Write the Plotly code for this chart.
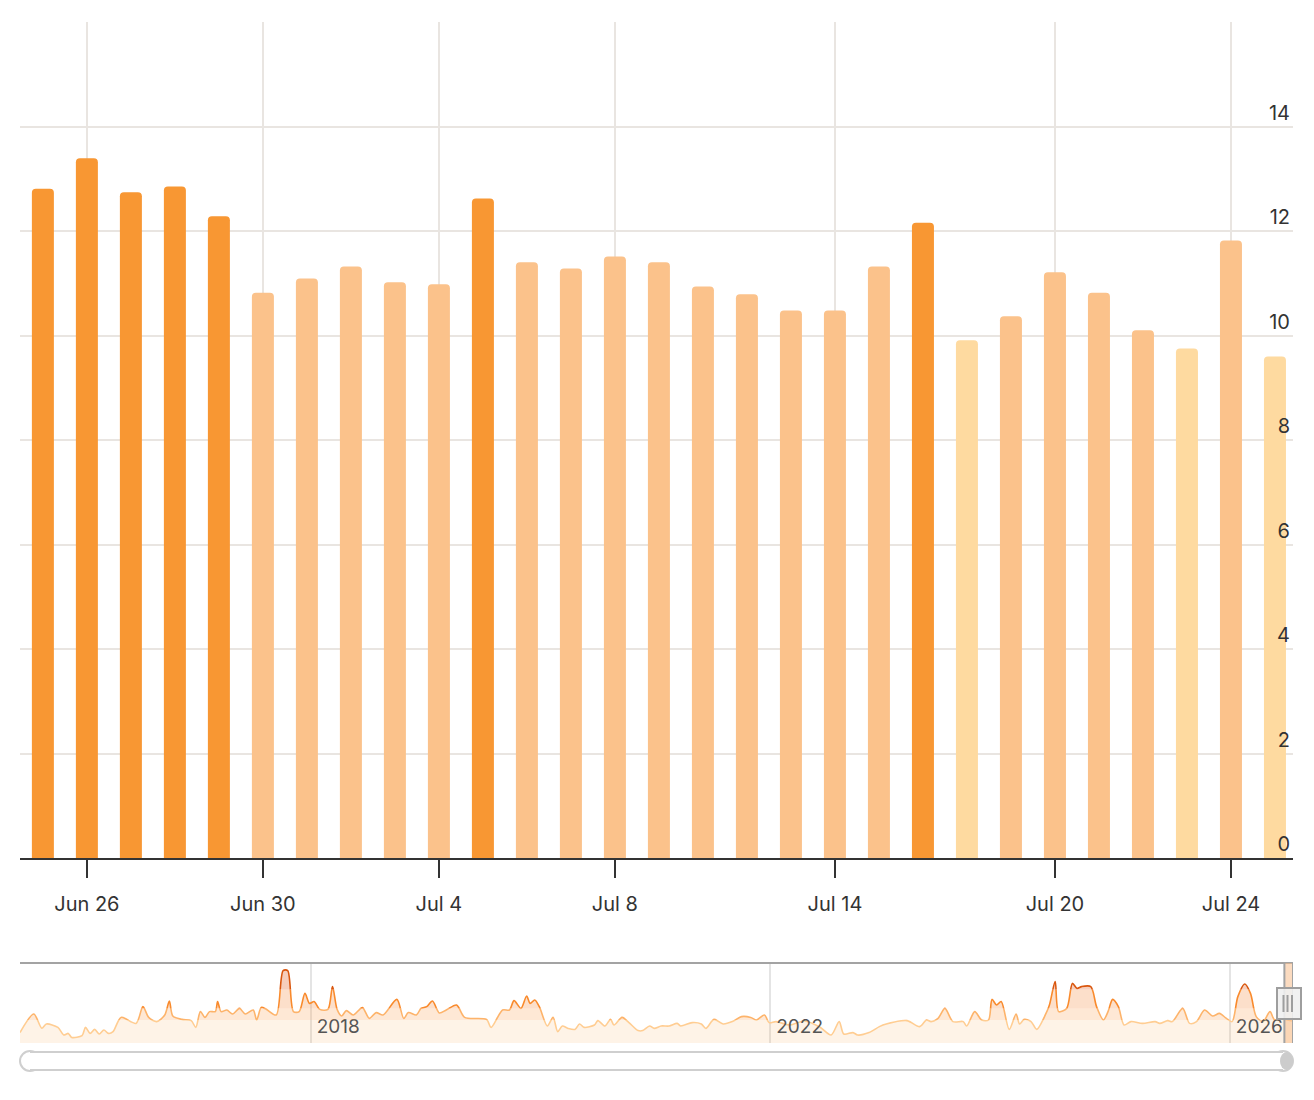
import plotly.graph_objects as go

# ---------------- main chart data ----------------
dates = ["Jun 25", "Jun 26", "Jun 27", "Jun 28", "Jun 29", "Jun 30", "Jul 1", "Jul 2",
         "Jul 3", "Jul 4", "Jul 5", "Jul 6", "Jul 7", "Jul 8", "Jul 9", "Jul 10",
         "Jul 11", "Jul 12", "Jul 14", "Jul 15", "Jul 16", "Jul 18", "Jul 19", "Jul 20",
         "Jul 21", "Jul 22", "Jul 23", "Jul 24", "Jul 25"]
values = [12.81, 13.39, 12.74, 12.85, 12.28, 10.82, 11.09, 11.32, 11.02, 10.98,
          12.62, 11.40, 11.28, 11.51, 11.40, 10.94, 10.79, 10.48, 10.48, 11.32,
          12.16, 9.91, 10.37, 11.21, 10.82, 10.10, 9.75, 11.82, 9.60]
levels = ["high", "high", "high", "high", "high", "mid", "mid", "mid", "mid", "mid",
          "high", "mid", "mid", "mid", "mid", "mid", "mid", "mid", "mid", "mid",
          "high", "low", "mid", "mid", "mid", "mid", "low", "mid", "low"]
x_ticks = ["Jun 26", "Jun 30", "Jul 4", "Jul 8", "Jul 14", "Jul 20", "Jul 24"]
y_ticks = [0, 2, 4, 6, 8, 10, 12, 14, 16]
y_ticktext = ["0", "2", "4", "6", "8", "10", "12", "14", ""]

# ---------------- overview (slider) data ----------------
ov_years = [2015.47, 2015.59, 2015.66, 2015.70, 2015.80, 2015.85, 2015.89, 2015.92, 2016.01,
            2016.04, 2016.08, 2016.12, 2016.16, 2016.20, 2016.24, 2016.28, 2016.35, 2016.48,
            2016.54, 2016.59, 2016.66, 2016.73, 2016.77, 2016.80, 2016.88, 2016.96, 2017.00,
            2017.04, 2017.08, 2017.12, 2017.17, 2017.19, 2017.22, 2017.27, 2017.32, 2017.38,
            2017.43, 2017.50, 2017.53, 2017.57, 2017.61, 2017.70, 2017.76, 2017.80, 2017.85,
            2017.90, 2017.95, 2017.99, 2018.03, 2018.08, 2018.15, 2018.19, 2018.23, 2018.27,
            2018.31, 2018.37, 2018.45, 2018.51, 2018.57, 2018.63, 2018.75, 2018.81, 2018.85,
            2018.92, 2018.96, 2019.01, 2019.06, 2019.12, 2019.18, 2019.27, 2019.34, 2019.53,
            2019.57, 2019.67, 2019.73, 2019.77, 2019.83, 2019.88, 2019.91, 2019.95, 2019.99,
            2020.06, 2020.11, 2020.15, 2020.19, 2020.24, 2020.30, 2020.34, 2020.38, 2020.47,
            2020.50, 2020.56, 2020.61, 2020.64, 2020.71, 2020.77, 2020.85, 2020.89, 2020.95,
            2020.99, 2021.05, 2021.12, 2021.19, 2021.22, 2021.32, 2021.40, 2021.44, 2021.51,
            2021.59, 2021.67, 2021.75, 2021.83, 2021.88, 2021.95, 2021.99, 2022.05, 2022.17,
            2022.30, 2022.43, 2022.53, 2022.60, 2022.64, 2022.72, 2022.76, 2022.86, 2022.95,
            2023.01, 2023.19, 2023.30, 2023.36, 2023.40, 2023.46, 2023.52, 2023.59, 2023.68,
            2023.71, 2023.78, 2023.84, 2023.90, 2023.93, 2023.97, 2024.01, 2024.08, 2024.14,
            2024.17, 2024.21, 2024.27, 2024.32, 2024.40, 2024.43, 2024.48, 2024.51, 2024.58,
            2024.63, 2024.67, 2024.71, 2024.79, 2024.84, 2024.90, 2024.94, 2024.98, 2025.03,
            2025.08, 2025.14, 2025.24, 2025.35, 2025.39, 2025.46, 2025.50, 2025.59, 2025.65,
            2025.71, 2025.78, 2025.85, 2025.91, 2025.97, 2026.02, 2026.07, 2026.13, 2026.18,
            2026.23, 2026.29, 2026.35, 2026.39, 2026.46, 2026.54]
ov_values = [5.2, 14.5, 7.4, 9.5, 7.8, 4.0, 4.8, 2.8, 3.7,
             7.8, 4.8, 6.8, 4.5, 6.5, 4.8, 5.7, 12.8, 9.8,
             18.2, 12.8, 10.7, 14.0, 21.0, 13.5, 11.8, 11.2, 7.8,
             15.7, 12.8, 15.7, 15.7, 20.7, 15.7, 16.5, 14.5, 17.3,
             14.5, 16.5, 11.5, 17.8, 17.0, 14.0, 36.2, 36.2, 15.7,
             15.7, 24.8, 19.8, 20.7, 16.8, 16.8, 28.2, 16.8, 13.5,
             16.2, 14.0, 17.7, 12.3, 15.2, 14.0, 21.8, 12.3, 15.2,
             14.0, 17.3, 18.2, 21.0, 15.0, 16.5, 19.0, 12.8, 11.8,
             7.8, 16.5, 16.5, 21.2, 17.3, 23.5, 19.8, 21.5, 18.2,
             8.5, 12.8, 5.7, 8.5, 7.3, 6.8, 9.5, 7.8, 9.0,
             11.2, 8.5, 11.8, 9.0, 12.8, 10.2, 6.2, 6.2, 8.5,
             7.3, 8.5, 8.5, 9.8, 8.5, 10.2, 9.5, 7.3, 11.8,
             9.5, 10.7, 13.2, 12.8, 11.5, 14.0, 10.2, 10.7, 9.0,
             11.0, 8.0, 4.0, 10.7, 4.5, 5.2, 4.0, 5.2, 8.2,
             9.5, 11.2, 8.2, 11.5, 10.7, 12.3, 17.3, 10.7, 10.7,
             8.5, 15.7, 11.5, 11.5, 21.8, 19.0, 20.7, 6.8, 14.5,
             9.5, 11.8, 10.7, 6.8, 14.8, 19.0, 30.7, 15.7, 17.3,
             29.8, 27.3, 28.2, 28.2, 18.2, 11.5, 15.7, 21.8, 18.2,
             9.0, 10.7, 9.8, 10.7, 9.8, 11.2, 10.7, 17.3, 9.8,
             10.7, 16.5, 13.5, 14.8, 12.3, 10.7, 23.2, 29.5, 24.8,
             13.2, 10.7, 15.7, 11.5, 12.0, 11.0]
ov_ticks = [2018, 2022, 2026]
ov_window = [2026.475, 2026.55]
ov_range = [2015.47, 2026.55]
band_edges = [0, 11.5, 17.3, 26.8, 40]

# ---------------- styling ----------------
W, H = 1314, 1100
def px(x):
    return x / W
def py(y):
    return 1 - y / H

color_map = {"high": "#F89733", "mid": "#FBC28B", "low": "#FEDAA0"}
band_lines = ["#FFCD92", "#FDB36A", "#F98A2C", "#D9560E"]
band_fills = ["rgba(252,186,110,0.17)", "rgba(250,170,100,0.27)",
              "rgba(245,150,80,0.30)", "rgba(230,110,60,0.34)"]
FONT = "Inter, 'Noto Sans', sans-serif"
TXT = "#333333"
GRID = "#E9E5E1"

fig = go.Figure()

fig.add_trace(go.Bar(
    x=dates, y=values,
    marker=dict(color=[color_map[l] for l in levels], cornerradius=4, line=dict(width=0)),
    width=0.5, xaxis="x", yaxis="y", hoverinfo="x+y",
))

# overview area, split into colour bands (each on its own clipped y-axis)
ov_axes = ["y2", "y3", "y4", "y5"]
for i, ya in enumerate(ov_axes):
    fig.add_trace(go.Scatter(
        x=ov_years, y=ov_values, xaxis="x2", yaxis=ya, mode="lines",
        line=dict(color=band_lines[i], width=1.6, shape="spline", smoothing=0.8),
        fill="tozeroy", fillcolor=band_fills[i], hoverinfo="skip",
    ))

panel_top, panel_bot = 963, 1043
def band_px(v):
    return panel_bot - (v - band_edges[0]) * (panel_bot - panel_top) / (band_edges[-1] - band_edges[0])

layout_axes = {}
for i, ya in enumerate(ov_axes):
    name = "yaxis" + ya[1:]
    layout_axes[name] = dict(
        domain=[py(band_px(band_edges[i])), py(band_px(band_edges[i + 1]))],
        range=[band_edges[i], band_edges[i + 1]],
        visible=False, fixedrange=True,
    )

shapes = []
# slider frame top line
shapes.append(dict(type="line", xref="paper", yref="paper", x0=px(20), x1=px(1293),
                   y0=py(963), y1=py(963), line=dict(color="#A3A3A3", width=2)))
# selected window
shapes.append(dict(type="rect", xref="x2", yref="paper", x0=ov_window[0], x1=ov_window[1],
                   y0=py(1043), y1=py(963), fillcolor="rgba(248,190,140,0.55)",
                   line=dict(width=0), layer="above"))
for xv in ov_window:
    shapes.append(dict(type="line", xref="x2", yref="paper", x0=xv, x1=xv,
                       y0=py(1043), y1=py(963), line=dict(color="#A3A3A3", width=2)))
# handle
shapes.append(dict(type="rect", xref="paper", yref="paper", x0=px(1277), x1=px(1301),
                   y0=py(1019), y1=py(988), fillcolor="rgba(240,240,240,0.9)",
                   line=dict(color="#9E9E9E", width=2)))
for hx in [1283.5, 1287.5, 1292]:
    shapes.append(dict(type="line", xref="paper", yref="paper", x0=px(hx), x1=px(hx),
                       y0=py(1012), y1=py(995), line=dict(color="#9E9E9E", width=2)))
# scrollbar pill
shapes.append(dict(type="circle", xref="paper", yref="paper", x0=px(20), x1=px(40),
                   y0=py(1071), y1=py(1051), fillcolor="white", line=dict(color="#CFCFCF", width=2)))
shapes.append(dict(type="circle", xref="paper", yref="paper", x0=px(1273), x1=px(1293),
                   y0=py(1071), y1=py(1051), fillcolor="white", line=dict(color="#CFCFCF", width=2)))
shapes.append(dict(type="rect", xref="paper", yref="paper", x0=px(30), x1=px(1283),
                   y0=py(1070), y1=py(1052), fillcolor="white", line=dict(width=0)))
for yy in [1052, 1070]:
    shapes.append(dict(type="line", xref="paper", yref="paper", x0=px(30), x1=px(1283),
                       y0=py(yy), y1=py(yy), line=dict(color="#CFCFCF", width=2)))
shapes.append(dict(type="circle", xref="paper", yref="paper", x0=px(1280), x1=px(1293),
                   y0=py(1070), y1=py(1052), fillcolor="#CCCCCC", line=dict(width=0)))

fig.update_layout(
    width=W, height=H,
    margin=dict(l=0, r=0, t=0, b=0),
    paper_bgcolor="white", plot_bgcolor="rgba(0,0,0,0)",
    showlegend=False,
    font=dict(family=FONT, color=TXT, size=20),
    bargap=0.5,
    xaxis=dict(
        domain=[px(20), px(1293)], anchor="y", type="category",
        range=[-0.52, len(dates) - 0.59],
        tickmode="array", tickvals=x_ticks, ticktext=x_ticks,
        showgrid=True, gridcolor=GRID, gridwidth=2,
        showline=True, linecolor="#333333", linewidth=2,
        ticks="outside", ticklen=18, tickwidth=2, tickcolor="#333333",
        tickfont=dict(size=20, color=TXT, family=FONT),
        ticklabelstandoff=9, fixedrange=True,
    ),
    yaxis=dict(
        domain=[py(858), py(22)], anchor="x", side="right",
        range=[0, 16], tickmode="array", tickvals=y_ticks, ticktext=y_ticktext,
        showgrid=True, gridcolor=GRID, gridwidth=2, zeroline=False,
        ticks="", ticklabelposition="inside top",
        tickfont=dict(size=20, color=TXT, family=FONT), fixedrange=True,
    ),
    xaxis2=dict(
        domain=[px(20), px(1293)], anchor="y2", range=ov_range,
        tickmode="array", tickvals=ov_ticks, ticktext=[str(t) for t in ov_ticks],
        showgrid=True, gridcolor="#E4E4E4", gridwidth=2, zeroline=False,
        showline=False, ticks="", ticklabelposition="inside right",
        ticklabelshift=6,
        tickfont=dict(size=19, color="#555555", family=FONT), fixedrange=True,
    ),
    shapes=shapes,
    **layout_axes,
)

fig.write_html("out.html")
